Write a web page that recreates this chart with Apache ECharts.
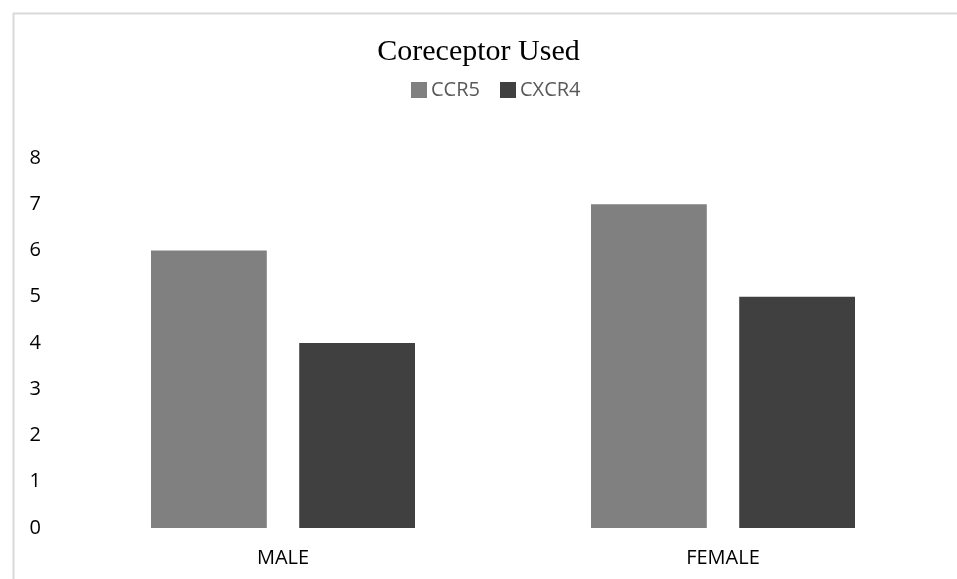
<!DOCTYPE html>
<html><head><meta charset="utf-8">
<script src="https://cdn.jsdelivr.net/npm/echarts@6/dist/echarts.min.js"></script>
<style>html,body{margin:0;padding:0;background:#fff}#c{width:957px;height:579px}</style>
</head><body><div id="c"></div>
<script>
const categories = ['MALE', 'FEMALE'];
const ccr5 = [6, 7];
const cxcr4 = [4, 5];
const yTicks = [0, 8, 1];

const chart = echarts.init(document.getElementById('c'));
chart.setOption({
  animation: false,
  backgroundColor: '#fff',
  graphic: [{
    type: 'rect', left: 11, top: 11, shape: { width: 960, height: 600 },
    style: { fill: 'none', stroke: '#d9d9d9', lineWidth: 2 }, silent: true, z: -1
  }],
  title: {
    text: 'Coreceptor Used', left: 'center', top: 37, padding: 0,
    textStyle: { fontFamily: 'Liberation Serif', fontSize: 30, fontWeight: 'normal', color: '#000' }
  },
  legend: {
    top: 80, left: 411, padding: 0, itemWidth: 16, itemHeight: 16, itemGap: 20,
    icon: 'rect',
    textStyle: { fontFamily: 'Open Sans', fontSize: 20, color: '#595959', padding: [0,0,0,-1] }
  },
  grid: { left: 63, right: 14, top: 158, bottom: 51 },
  xAxis: {
    type: 'category', data: categories,
    axisLine: { show: false }, axisTick: { show: false },
    axisLabel: { fontFamily: 'Open Sans', fontSize: 20, color: '#000', margin: 20 }
  },
  yAxis: {
    type: 'value', min: yTicks[0], max: yTicks[1], interval: yTicks[2],
    splitLine: { show: false }, axisLine: { show: false }, axisTick: { show: false },
    axisLabel: { fontFamily: 'Open Sans', fontSize: 20, color: '#000', margin: 22 }
  },
  series: [
    { name: 'CCR5', type: 'bar', data: ccr5, itemStyle: { color: '#808080' }, barGap: '28%', barCategoryGap: '40%' },
    { name: 'CXCR4', type: 'bar', data: cxcr4, itemStyle: { color: '#404040' } }
  ]
});
</script></body></html>
